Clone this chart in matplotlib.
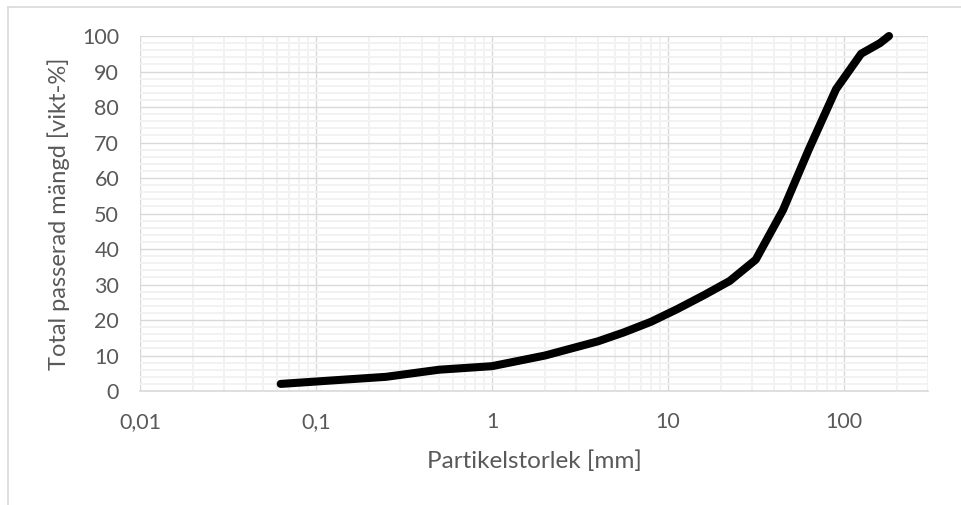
import matplotlib.pyplot as plt
from matplotlib.ticker import FixedLocator, LogLocator, MultipleLocator, NullFormatter
from matplotlib.lines import Line2D

# Siktkurva: partikelstorlek (mm) och total passerad mängd (vikt-%)
storlek = [0.063, 0.125, 0.25, 0.5, 1, 2, 4, 5.6, 8, 11.2, 16, 22.4, 31.5, 45, 63, 90, 125, 160, 180]
passerad = [2, 3, 4, 6, 7, 10, 14, 16.5, 19.5, 23, 27, 31, 37, 51, 68, 85, 95, 98, 100]

x_ticks = [0.01, 0.1, 1, 10, 100]
x_labels = ["0,01", "0,1", "1", "10", "100"]
y_ticks = list(range(0, 101, 10))

plt.rcParams['font.family'] = ['Lato', 'DejaVu Sans']
text_color = "#595959"

fig = plt.figure(figsize=(9.62, 5.05), dpi=100)
ax = fig.add_axes([0.1455, 0.2257, 0.9647 - 0.1455, 0.9287 - 0.2257])

ax.plot(storlek, passerad, color="black", linewidth=5.8,
        solid_capstyle="round", solid_joinstyle="round", zorder=3, clip_on=False)

ax.set_xscale("log")
ax.set_xlim(0.01, 300)
ax.set_ylim(0, 100)

ax.xaxis.set_major_locator(FixedLocator(x_ticks))
ax.set_xticklabels(x_labels)
ax.xaxis.set_minor_locator(LogLocator(base=10, subs=range(2, 10)))
ax.xaxis.set_minor_formatter(NullFormatter())
ax.set_yticks(y_ticks)
ax.yaxis.set_minor_locator(MultipleLocator(2))

ax.grid(which="minor", color="#f2f2f2", linewidth=1.4)
ax.grid(which="major", color="#d9d9d9", linewidth=1.0)
ax.set_axisbelow(True)

for side in ["top", "right", "left"]:
    ax.spines[side].set_visible(False)
ax.spines["bottom"].set_color("#d9d9d9")
ax.spines["bottom"].set_linewidth(1.2)

ax.tick_params(which="both", length=0)
ax.tick_params(axis="x", labelsize=15.5, labelcolor=text_color, pad=15)
ax.tick_params(axis="y", labelsize=15.5, labelcolor=text_color, pad=15)

ax.set_xlabel("Partikelstorlek [mm]", fontsize=17.5, color=text_color, labelpad=13)
ax.set_ylabel("Total passerad mängd [vikt-%]", fontsize=17, color=text_color, labelpad=9)

# Diagramramens övre och vänstra kant
fig.add_artist(Line2D([8 / 962, 1], [1 - 7 / 505, 1 - 7 / 505], color="#d9d9d9", linewidth=1.2))
fig.add_artist(Line2D([8 / 962, 8 / 962], [0, 1 - 7 / 505], color="#d9d9d9", linewidth=1.2))

fig.savefig("out.png", dpi=100)
